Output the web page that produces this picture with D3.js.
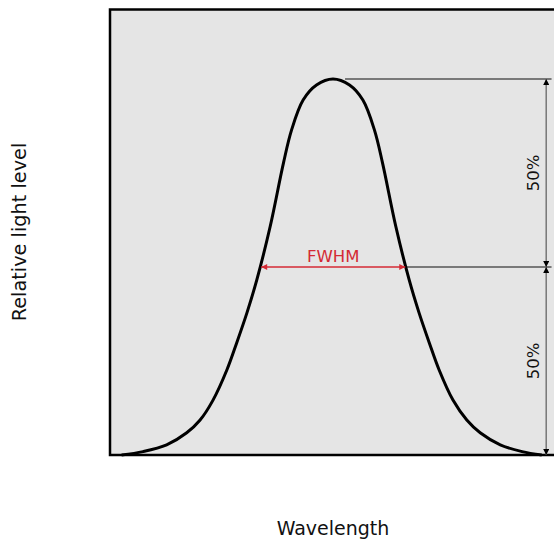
<!DOCTYPE html>
<html><head><meta charset="utf-8">
<script src="https://cdn.jsdelivr.net/npm/d3@7"></script>
<style>body{margin:0;background:#fff}svg{display:block}text{font-family:"DejaVu Sans",sans-serif}</style>
</head><body><svg id="c" width="554" height="545"></svg>
<script>
// Wavelength (arbitrary units) and relative light level
const wavelength = [2.6, 7.4, 12.7, 17.2, 20.2, 23.1, 26.2, 28.4, 30.7, 32.9, 35.9, 38.9, 40.7, 43.3, 46.3, 50.0,
  53.7, 56.7, 59.3, 61.1, 64.1, 67.1, 69.3, 71.6, 73.8, 76.9, 80.0, 83.0, 87.5, 92.4, 96.8];
const level = [0, 0.009, 0.027, 0.059, 0.093, 0.146, 0.226, 0.298, 0.378, 0.465, 0.607, 0.777, 0.864, 0.944, 0.984, 1.0,
  0.984, 0.944, 0.864, 0.777, 0.607, 0.465, 0.378, 0.298, 0.226, 0.146, 0.093, 0.059, 0.027, 0.009, 0];
const fwhm = [33.9, 66.2];
const peakX = 52.7, markerX = 97.8, lineEnd = 99;
const labels = {x: "Wavelength", y: "Relative light level", fwhm: "FWHM", half: "50%"};

const svg = d3.select("#c");
const x = d3.scaleLinear().domain([0, 100]).range([110, 556]);
const y = d3.scaleLinear().domain([0, 1]).range([455, 79]);

const defs = svg.append("defs");
function marker(id, color) {
  defs.append("marker").attr("id", id).attr("viewBox", "0 0 10 10").attr("refX", 10).attr("refY", 5)
    .attr("markerWidth", 8).attr("markerHeight", 6).attr("markerUnits", "userSpaceOnUse")
    .attr("orient", "auto-start-reverse")
    .append("path").attr("d", "M0,0L10,5L0,10z").attr("fill", color);
}
marker("ab", "#000");
marker("ar", "#d42a34");

svg.append("rect").attr("x", 110).attr("y", 9.5).attr("width", 500).attr("height", 445.5)
  .attr("fill", "#e5e5e5").attr("stroke", "#000").attr("stroke-width", 2.5);

// guide lines
svg.append("line").attr("x1", x(peakX)).attr("x2", x(lineEnd)).attr("y1", y(1)).attr("y2", y(1))
  .attr("stroke", "#555").attr("stroke-width", 1.3);
svg.append("line").attr("x1", x(fwhm[1])).attr("x2", x(lineEnd)).attr("y1", y(0.5)).attr("y2", y(0.5))
  .attr("stroke", "#555").attr("stroke-width", 1.3);

// 50% arrows
[[0.5, 1], [0.5, 0]].forEach(([a, b]) => {
  svg.append("line").attr("x1", x(markerX)).attr("x2", x(markerX)).attr("y1", y(a)).attr("y2", y(b))
    .attr("stroke", "#666").attr("stroke-width", 1.3)
    .attr("marker-start", "url(#ab)").attr("marker-end", "url(#ab)");
});

// curve
svg.append("path").datum(d3.zip(wavelength, level))
  .attr("d", d3.line().x(d => x(d[0])).y(d => y(d[1])).curve(d3.curveCatmullRom.alpha(0.5)))
  .attr("fill", "none").attr("stroke", "#000").attr("stroke-width", 3);

// FWHM
svg.append("line").attr("x1", x(fwhm[0])).attr("x2", x(fwhm[1])).attr("y1", y(0.5)).attr("y2", y(0.5))
  .attr("stroke", "#d42a34").attr("stroke-width", 1.3)
  .attr("marker-start", "url(#ar)").attr("marker-end", "url(#ar)");
svg.append("text").attr("x", x((fwhm[0] + fwhm[1]) / 2)).attr("y", y(0.5) - 5)
  .attr("text-anchor", "middle").attr("fill", "#d42a34").attr("font-size", 16.5).text(labels.fwhm);

// 50% labels
[0.75, 0.25].forEach(v => {
  svg.append("text").attr("transform", `translate(${x(markerX) - 7},${y(v)}) rotate(-90)`)
    .attr("text-anchor", "middle").attr("font-size", 16.5).attr("fill", "#111").text(labels.half);
});

// axis titles
svg.append("text").attr("x", x(50)).attr("y", 535).attr("text-anchor", "middle")
  .attr("font-size", 19).attr("fill", "#111").text(labels.x);
svg.append("text").attr("transform", `translate(26,232) rotate(-90)`).attr("text-anchor", "middle")
  .attr("font-size", 19.3).attr("fill", "#111").text(labels.y);
</script></body></html>
